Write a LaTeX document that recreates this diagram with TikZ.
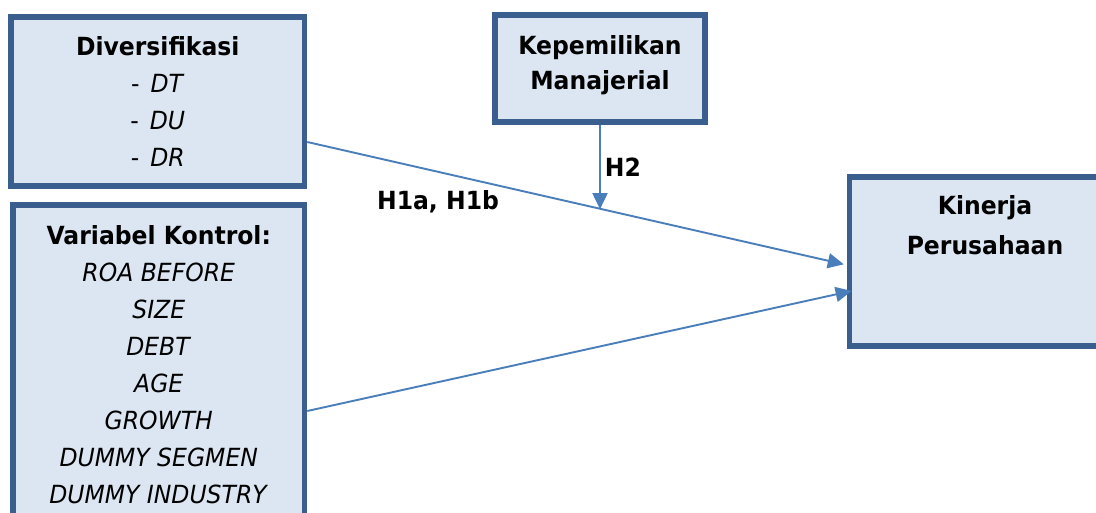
\documentclass[tikz,border=0pt]{standalone}
\usepackage{fontspec}
\setmainfont{DejaVu Sans}[FakeStretch=0.94]
\usetikzlibrary{arrows.meta}
\definecolor{boxfill}{HTML}{DCE6F2}
\definecolor{boxline}{HTML}{3A5F8F}
\definecolor{arrowc}{HTML}{4A7EBB}
\begin{document}
\begin{tikzpicture}[x=1pt,y=-1pt,
 box/.style={draw=boxline, fill=boxfill, line width=5.5pt, rectangle, inner sep=0pt},
 txt/.style={align=center, inner sep=0pt, font=\fontsize{25}{37}\selectfont, anchor=base},
 conn/.style={draw=arrowc, line width=1.9pt, -{Triangle[length=16pt,width=15pt]}},
 lbl/.style={font=\fontsize{25}{28}\selectfont\bfseries, inner sep=0pt}]
\clip (0,0) rectangle (1096,513);
% boxes
\node[box, minimum width=293.5pt, minimum height=169pt] (div) at (157.75,101.5) {};
\node[box, minimum width=210pt, minimum height=107pt] (kep) at (600,68.5) {};
\node[box, minimum width=270.5pt, minimum height=169pt] (kin) at (984.75,261.5) {};
\node[box, minimum width=291.5pt, minimum height=355pt] (var) at (158.75,382.5) {};
% texts (anchor=base gives the baseline of the last line)
\node[txt, font=\fontsize{25}{37.3}\selectfont] (divT) at (157.75,167) {\textbf{Diversifikasi}\\ -\hspace{11pt}\textit{DT}\\ -\hspace{11pt}\textit{DU}\\ -\hspace{11pt}\textit{DR}};
\node[txt, font=\fontsize{25}{35}\selectfont] (kepT) at (600,90) {\textbf{Kepemilikan}\\ \textbf{Manajerial}};
\node[txt, font=\fontsize{25}{40}\selectfont] (kinT) at (985,255) {\textbf{Kinerja}\\ \textbf{Perusahaan}};
\node[txt] (varT) at (158.75,503) {\textbf{Variabel Kontrol:}\\ \textit{ROA BEFORE}\\ \textit{SIZE}\\ \textit{DEBT}\\ \textit{AGE}\\ \textit{GROWTH}\\ \textit{DUMMY SEGMEN}\\ \textit{DUMMY INDUSTRY}};
% connectors
\draw[conn, shorten >=3pt] ([yshift=-40.5pt]div.east) -- coordinate[pos=0.546] (h1mid) ([yshift=-3.5pt]kin.west);
\draw[conn, shorten >=-5pt] ([yshift=-28.5pt]var.east) -- ([yshift=-30.5pt]kin.west);
\draw[conn] (kep.south) -- (kep.south |- h1mid);
% labels
\node[lbl] (h2) at (623,167) {H2};
\node[lbl] (h1) at (438,202) {H1a, H1b};
\end{tikzpicture}
\end{document}
